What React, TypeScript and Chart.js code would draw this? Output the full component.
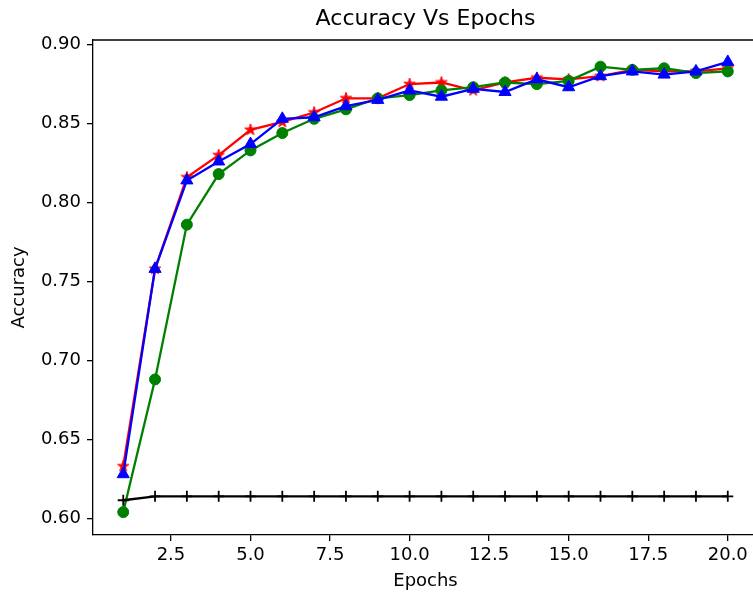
import React, { useEffect, useRef } from "react";
import { Chart, registerables } from "chart.js";

Chart.register(...registerables);

const epochs = [1, 2, 3, 4, 5, 6, 7, 8, 9, 10, 11, 12, 13, 14, 15, 16, 17, 18, 19, 20];
const redAcc = [0.633, 0.758, 0.816, 0.830, 0.846, 0.851, 0.857, 0.866, 0.866, 0.875, 0.876, 0.871, 0.876, 0.879, 0.878, 0.880, 0.884, 0.883, 0.883, 0.885];
const greenAcc = [0.604, 0.688, 0.786, 0.818, 0.833, 0.844, 0.853, 0.859, 0.866, 0.868, 0.871, 0.873, 0.876, 0.875, 0.877, 0.886, 0.884, 0.885, 0.882, 0.883];
const blueAcc = [0.628, 0.758, 0.814, 0.826, 0.837, 0.853, 0.854, 0.861, 0.865, 0.871, 0.867, 0.872, 0.870, 0.878, 0.873, 0.880, 0.883, 0.881, 0.883, 0.889];
const blackAcc = [0.6115, 0.614, 0.614, 0.614, 0.614, 0.614, 0.614, 0.614, 0.614, 0.614, 0.614, 0.614, 0.614, 0.614, 0.614, 0.614, 0.614, 0.614, 0.614, 0.614];
const xTickValues = [2.5, 5.0, 7.5, 10.0, 12.5, 15.0, 17.5, 20.0];
const yTickValues = [0.6, 0.65, 0.7, 0.75, 0.8, 0.85, 0.9];
const titleText = "Accuracy Vs Epochs";

const FONT = "'DejaVu Sans', sans-serif";
const CANVAS_W = 775;
const TARGET_RIGHT = 758;

function makeStar(color: string, r: number): HTMLCanvasElement {
  const size = Math.ceil(r * 2 + 4);
  const c = document.createElement("canvas");
  c.width = size;
  c.height = size;
  const ctx = c.getContext("2d")!;
  const cx = size / 2;
  const cy = size / 2;
  ctx.beginPath();
  for (let i = 0; i < 10; i++) {
    const rad = i % 2 === 0 ? r : r * 0.382;
    const a = -Math.PI / 2 + (i * Math.PI) / 5;
    const px = cx + rad * Math.cos(a);
    const py = cy + rad * Math.sin(a);
    if (i === 0) ctx.moveTo(px, py);
    else ctx.lineTo(px, py);
  }
  ctx.closePath();
  ctx.fillStyle = color;
  ctx.fill();
  ctx.strokeStyle = color;
  ctx.lineWidth = 1;
  ctx.stroke();
  return c;
}

const frameAndTitle = {
  id: "frameAndTitle",
  afterDraw(chart: any) {
    const { ctx, chartArea } = chart;
    ctx.save();
    ctx.strokeStyle = "#000";
    ctx.lineWidth = 1.3;
    ctx.beginPath();
    ctx.moveTo(chartArea.left, chartArea.top);
    ctx.lineTo(chartArea.right, chartArea.top);
    ctx.lineTo(chartArea.right, chartArea.bottom);
    ctx.stroke();
    ctx.fillStyle = "#000";
    ctx.font = `22px ${FONT}`;
    ctx.textAlign = "center";
    ctx.textBaseline = "middle";
    ctx.fillText(titleText, (chartArea.left + chartArea.right) / 2, 19);
    ctx.restore();
  },
};

export default function App() {
  const ref = useRef<HTMLCanvasElement>(null);
  useEffect(() => {
    const star = makeStar("#ff0000", 6);
    const toPts = (arr: number[]) => arr.map((v, i) => ({ x: epochs[i], y: v }));
    const chart = new Chart(ref.current!, {
      type: "line",
      data: {
        datasets: [
          {
            data: toPts(blackAcc),
            borderColor: "#000000",
            backgroundColor: "#000000",
            borderWidth: 2.3,
            pointStyle: "cross",
            pointRadius: 5.5,
            pointBorderWidth: 1.8,
            tension: 0,
          },
          {
            data: toPts(blueAcc),
            borderColor: "#0000ff",
            backgroundColor: "#0000ff",
            borderWidth: 2.3,
            pointStyle: "triangle",
            pointRadius: 7,
            pointBorderWidth: 1,
            tension: 0,
          },
          {
            data: toPts(greenAcc),
            borderColor: "#008000",
            backgroundColor: "#008000",
            borderWidth: 2.3,
            pointStyle: "circle",
            pointRadius: 5.5,
            pointBorderWidth: 1,
            tension: 0,
          },
          {
            data: toPts(redAcc),
            borderColor: "#ff0000",
            backgroundColor: "#ff0000",
            borderWidth: 2.3,
            pointStyle: star as any,
            pointRadius: 6,
            tension: 0,
          },
        ],
      },
      options: {
        animation: false,
        responsive: false,
        maintainAspectRatio: false,
        layout: { padding: { left: 0, top: 40, bottom: 0, right: 0 } },
        plugins: {
          legend: { display: false },
          tooltip: { enabled: false },
          title: { display: false },
        },
        scales: {
          x: {
            type: "linear",
            min: 0.05,
            max: 20.95,
            afterBuildTicks: (axis: any) => {
              axis.ticks = xTickValues.map((v) => ({ value: v }));
            },
            afterFit: (scale: any) => {
              scale.height = 58;
            },
            ticks: {
              color: "#000",
              font: { family: FONT, size: 18 },
              padding: 4,
              maxRotation: 0,
              autoSkip: false,
              callback: (v: any) => Number(v).toFixed(1),
            },
            grid: { drawOnChartArea: false, drawTicks: true, tickLength: 6, color: "#000", lineWidth: 1.3 },
            border: { display: true, color: "#000", width: 1.3 },
            title: {
              display: true,
              text: "Epochs",
              color: "#000",
              font: { family: FONT, size: 18 },
              padding: { top: 0, bottom: 1 },
            },
          },
          y: {
            type: "linear",
            min: 0.5895,
            max: 0.9029,
            afterBuildTicks: (axis: any) => {
              axis.ticks = yTickValues.map((v) => ({ value: v }));
            },
            afterFit: (scale: any) => {
              scale.width = 93;
            },
            ticks: {
              color: "#000",
              font: { family: FONT, size: 18 },
              padding: 6,
              autoSkip: false,
              callback: (v: any) => Number(v).toFixed(2),
            },
            grid: { drawOnChartArea: false, drawTicks: true, tickLength: 6, color: "#000", lineWidth: 1.3 },
            border: { display: true, color: "#000", width: 1.3 },
            title: {
              display: true,
              text: "Accuracy",
              color: "#000",
              font: { family: FONT, size: 18 },
              padding: { top: 9, bottom: 0 },
            },
          },
        },
      } as any,
      plugins: [frameAndTitle],
    });
    for (let i = 0; i < 4; i++) {
      const diff = chart.chartArea.right - TARGET_RIGHT;
      if (Math.abs(diff) < 0.5) break;
      const pad = (chart.options.layout as any).padding;
      pad.right = (pad.right || 0) + diff;
      chart.update();
    }
    return () => chart.destroy();
  }, []);
  return (
    <div style={{ position: "fixed", left: 0, top: 0, width: 753, height: 593, background: "#fff", overflow: "hidden" }}>
      <canvas ref={ref} width={CANVAS_W} height={593} style={{ display: "block", width: CANVAS_W, height: 593 }} />
    </div>
  );
}
